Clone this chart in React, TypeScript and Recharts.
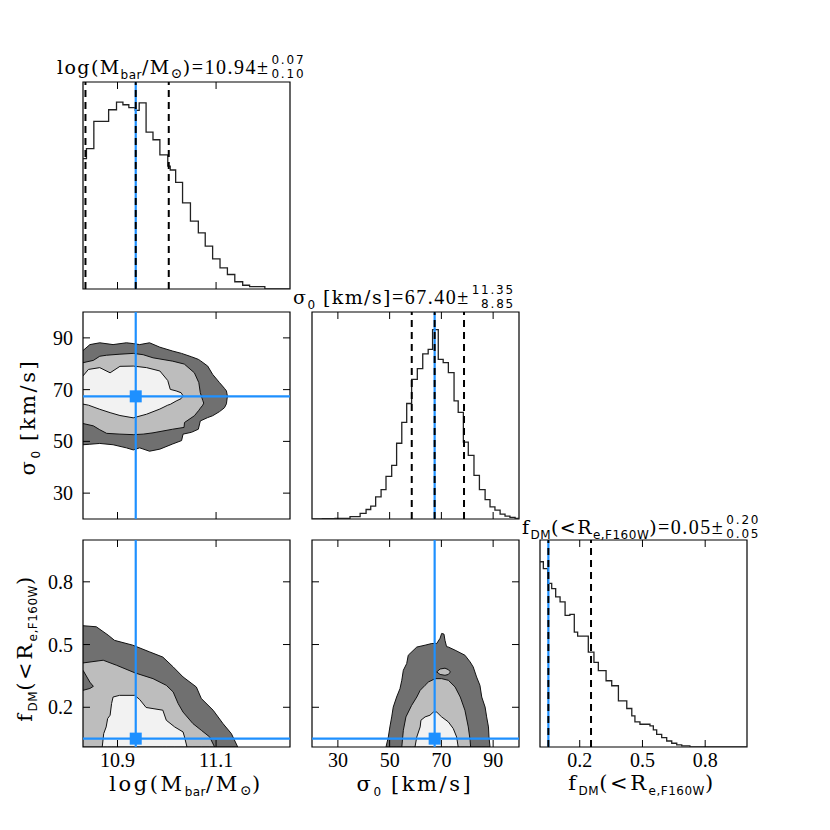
import React from 'react';
import { ComposedChart, Line, Area, Scatter, XAxis, YAxis, ReferenceLine, ReferenceArea } from 'recharts';

// axis ranges and ticks
const massDomain: [number, number] = [10.83, 11.25];
const sigmaDomain: [number, number] = [20, 100];
const fdmDomain: [number, number] = [0.01, 1.0];
const histDomain: [number, number] = [0, 100];
const massTicks = [10.9, 11.1];
const sigmaTicks = [30, 50, 70, 90];
const fdmTicks = [0.2, 0.5, 0.8];

// best values and 16th/84th percentiles
const massBest = 10.937;
const massRange = [10.835, 11.004];
const sigmaBest = 67.4;
const sigmaRange = [58.55, 78.75];
const fdmBest = 0.05;
const fdmRange = [0.05, 0.254];

// 1D posteriors: [left bin edge, height in % of panel]
const massHist = [
  [10.83, 63.0], [10.837, 67.8], [10.852, 81.0], [10.882, 86.6], [10.898, 90.3], [10.911, 89.0],
  [10.923, 87.6], [10.936, 86.3], [10.944, 89.9], [10.958, 75.8], [10.972, 72.1], [10.986, 64.8],
  [11.002, 59.4], [11.007, 57.5], [11.018, 51.5], [11.032, 41.6], [11.048, 32.8], [11.064, 27.1],
  [11.078, 20.7], [11.093, 14.6], [11.108, 10.2], [11.123, 7.0], [11.138, 3.5], [11.154, 1.8],
  [11.168, 1.1], [11.199, 0], [11.25, 0],
];
const sigmaHist = [
  [20, 0], [24, 0.2], [28.9, 0.3], [34.7, 1.1], [38.6, 2.7], [40.9, 4.6], [42.7, 6.2], [44.6, 10.7],
  [46.7, 14.2], [48.6, 20.6], [50.8, 25.9], [52.7, 36.6], [54.7, 46.7], [56.6, 55.8], [58.5, 67.5],
  [60.7, 72.6], [62.8, 79.8], [64.9, 81.9], [66.6, 91.5], [68.8, 77.1], [70.7, 75.5], [72.7, 70.7],
  [74.9, 57.1], [76.5, 51.5], [78.5, 37.1], [80.4, 30.7], [82.6, 21.1], [84.7, 14.2], [86.9, 9.4],
  [88.8, 5.9], [90.7, 4.3], [92.7, 2.4], [94.6, 1.4], [96.5, 0.8], [98.5, 0.3], [100, 0.3],
];
const fdmHist = [
  [0.01, 89.5], [0.026, 86.2], [0.047, 79.0], [0.066, 76.5], [0.085, 72.5], [0.106, 70.1],
  [0.13, 63.6], [0.153, 64.1], [0.174, 55.5], [0.19, 53.6], [0.241, 45.8], [0.268, 40.9],
  [0.289, 36.9], [0.326, 32.0], [0.353, 29.6], [0.385, 22.3], [0.425, 18.6], [0.449, 15.0],
  [0.464, 12.1], [0.488, 11.0], [0.536, 10.2], [0.552, 8.3], [0.568, 6.1], [0.592, 4.5],
  [0.616, 2.9], [0.64, 1.8], [0.664, 1.0], [0.688, 0.5], [0.727, 0], [1.0, 0],
];

// 2D contours: [x, low, high] for the outer, middle and inner credible regions
const massSigmaOuter = [
  [10.83, 48.7, 85.1], [10.844, 48.9, 87.4], [10.864, 49.2, 88.1], [10.891, 48.7, 87.4],
  [10.918, 47.5, 88.1], [10.932, 46.7, 87.8], [10.945, 47.5, 87.4], [10.965, 46.2, 88.1],
  [10.986, 47.0, 86.4], [11.012, 49.0, 84.9], [11.03, 50.3, 84.0], [11.033, 52.8, 83.8],
  [11.05, 53.5, 82.7], [11.064, 54.7, 81.7], [11.068, 57.9, 81.2], [11.083, 59.2, 79.1],
  [11.093, 59.9, 75.9], [11.107, 61.5, 72.7], [11.117, 63.0, 70.5], [11.121, 64.5, 69.5],
  [11.123, 67.5, 67.5],
];
const massSigmaMid = [
  [10.83, 56.9, 80.4], [10.851, 56.0, 81.3], [10.864, 54.5, 82.9], [10.878, 53.1, 83.3],
  [10.905, 52.8, 83.7], [10.932, 52.6, 84.0], [10.952, 52.8, 83.5], [10.972, 53.3, 82.3],
  [11.012, 54.7, 81.0], [11.035, 55.4, 79.9], [11.036, 57.3, 79.8], [11.056, 59.9, 76.5],
  [11.065, 62.0, 72.7], [11.068, 62.8, 68.8], [11.073, 64.0, 65.8], [11.075, 64.8, 64.8],
];
const massSigmaInner = [
  [10.83, 64.4, 75.3], [10.841, 64.0, 77.8], [10.864, 62.4, 78.5], [10.885, 61.1, 76.5],
  [10.905, 60.0, 79.0], [10.932, 59.1, 79.1], [10.959, 60.5, 78.5], [10.986, 62.5, 77.2],
  [11.002, 64.0, 73.5], [11.007, 64.3, 70.1], [11.019, 65.6, 69.5], [11.029, 66.5, 68.8],
  [11.033, 67.6, 67.6],
];

const massFdmOuter = [
  [10.83, 0.01, 0.59], [10.857, 0.01, 0.585], [10.881, 0.01, 0.545], [10.894, 0.01, 0.52],
  [10.931, 0.01, 0.497], [10.965, 0.01, 0.465], [10.992, 0.01, 0.44], [11.013, 0.01, 0.393],
  [11.033, 0.01, 0.345], [11.06, 0.01, 0.297], [11.07, 0.01, 0.242], [11.094, 0.01, 0.186],
  [11.114, 0.01, 0.122], [11.131, 0.01, 0.074], [11.144, 0.01, 0.01],
];
const massFdmMid = [
  [10.83, 0.01, 0.412], [10.871, 0.01, 0.425], [10.898, 0.01, 0.401], [10.936, 0.01, 0.364],
  [10.972, 0.01, 0.337], [10.999, 0.01, 0.305], [11.013, 0.01, 0.273], [11.023, 0.01, 0.218],
  [11.033, 0.01, 0.177], [11.053, 0.01, 0.122], [11.07, 0.01, 0.09], [11.087, 0.01, 0.058],
  [11.097, 0.01, 0.01],
];
const massFdmIsland = [
  [10.83, 0.281, 0.377], [10.844, 0.29, 0.32], [10.851, 0.3, 0.3],
];
const massFdmInner = [
  [10.869, 0.01, 0.01], [10.872, 0.01, 0.074], [10.877, 0.01, 0.106], [10.88, 0.01, 0.146],
  [10.885, 0.01, 0.162], [10.888, 0.01, 0.218], [10.891, 0.01, 0.249], [10.904, 0.01, 0.257],
  [10.935, 0.01, 0.257], [10.945, 0.01, 0.237], [10.958, 0.01, 0.199], [10.992, 0.01, 0.186],
  [10.999, 0.01, 0.138], [11.016, 0.01, 0.106], [11.033, 0.01, 0.082], [11.036, 0.01, 0.058],
  [11.041, 0.01, 0.01],
];

const sigmaFdmOuter = [
  [48.6, 0.01, 0.01], [49.5, 0.01, 0.058], [50.1, 0.01, 0.106], [50.8, 0.01, 0.154],
  [51.4, 0.01, 0.201], [52.7, 0.01, 0.249], [54.0, 0.01, 0.289], [54.7, 0.01, 0.329],
  [55.3, 0.01, 0.377], [56.6, 0.01, 0.409], [57.2, 0.01, 0.449], [60.5, 0.01, 0.488],
  [63.7, 0.01, 0.497], [66.3, 0.01, 0.505], [68.2, 0.01, 0.505], [69.5, 0.01, 0.53],
  [70.1, 0.01, 0.553], [71.0, 0.01, 0.55], [71.4, 0.01, 0.52], [72.0, 0.01, 0.49],
  [72.7, 0.01, 0.488], [75.3, 0.01, 0.473], [79.1, 0.01, 0.449], [81.1, 0.01, 0.417],
  [82.3, 0.01, 0.393], [83.6, 0.01, 0.345], [84.9, 0.01, 0.305], [85.6, 0.01, 0.249],
  [86.9, 0.01, 0.201], [87.5, 0.01, 0.154], [88.2, 0.01, 0.106], [88.4, 0.01, 0.058],
  [88.8, 0.01, 0.01],
];
const sigmaFdmHole = [
  [68.2, 0.369, 0.369], [69.5, 0.357, 0.383], [71.4, 0.353, 0.387], [72.7, 0.357, 0.38], [73.5, 0.369, 0.369],
];
const sigmaFdmMid = [
  [54.7, 0.01, 0.01], [55.3, 0.01, 0.09], [56.3, 0.01, 0.154], [58.5, 0.01, 0.209],
  [60.5, 0.01, 0.249], [61.8, 0.01, 0.281], [63.7, 0.01, 0.305], [65.0, 0.01, 0.321],
  [67.6, 0.01, 0.337], [70.1, 0.01, 0.337], [72.7, 0.01, 0.329], [75.3, 0.01, 0.297],
  [77.3, 0.01, 0.249], [79.1, 0.01, 0.186], [80.4, 0.01, 0.106], [81.1, 0.01, 0.042],
  [81.3, 0.01, 0.01],
];
const sigmaFdmInner = [
  [59.8, 0.01, 0.01], [60.5, 0.01, 0.058], [61.8, 0.01, 0.106], [62.1, 0.01, 0.138],
  [63.7, 0.01, 0.154], [65.6, 0.01, 0.162], [66.9, 0.01, 0.177], [68.2, 0.01, 0.177],
  [70.1, 0.01, 0.154], [72.7, 0.01, 0.13], [74.6, 0.01, 0.098], [75.9, 0.01, 0.058],
  [76.5, 0.01, 0.01],
];

const BLUE = '#1e90ff';
const DARK = '#707070';
const MID = '#bdbdbd';
const LIGHT = '#f2f2f2';
const serif = '"DejaVu Serif", serif';
const tickFont = '"Liberation Serif", "Times New Roman", serif';
const sans = '"DejaVu Sans", sans-serif';

const PW = 207;
const PH = 207;
const TL = 7; // tick length
// axes take 1px each (a zero-sized axis is not drawn), margins make up the rest
const M = { top: 12, right: 12, bottom: 39, left: 79 };

const toHist = (rows: number[][]) => rows.map(([x, h]) => ({ x, h }));
const toBand = (rows: number[][]) => rows.map(([x, lo, hi]) => ({ x, r: [lo, hi] }));

function XTick(props: any) {
  const { x, y, payload, showLabel } = props;
  return (
    <g>
      <line x1={x} x2={x} y1={y} y2={y - TL} stroke="#000" />
      <line x1={x} x2={x} y1={y - PH} y2={y - PH + TL} stroke="#000" />
      {showLabel && (
        <text x={x} y={y + 20} textAnchor="middle" fontFamily={tickFont} fontSize={20} fill="#000">
          {String(payload.value)}
        </text>
      )}
    </g>
  );
}

function YTick(props: any) {
  const { x, y, payload, showLabel } = props;
  return (
    <g>
      <line x1={x} x2={x + TL} y1={y} y2={y} stroke="#000" />
      <line x1={x + PW} x2={x + PW - TL} y1={y} y2={y} stroke="#000" />
      {showLabel && (
        <text x={x - 10} y={y + 7} textAnchor="end" fontFamily={tickFont} fontSize={20} fill="#000">
          {String(payload.value)}
        </text>
      )}
    </g>
  );
}

function Panel(props: any) {
  const { left, top, xDomain, yDomain, xTicks, yTicks, xLabels, yLabels, children } = props;
  return (
    <div style={{ position: 'absolute', left: left - M.left - 1, top: top - M.top }}>
      <ComposedChart width={PW + M.left + M.right + 1} height={PH + M.top + M.bottom + 1} margin={M}>
        <XAxis
          type="number"
          dataKey="x"
          domain={xDomain}
          allowDataOverflow
          ticks={xTicks}
          interval={0}
          height={1}
          tickSize={0}
          tickMargin={0}
          axisLine={false}
          tickLine={false}
          tick={(p: any) => <XTick {...p} showLabel={xLabels} />}
        />
        <YAxis
          type="number"
          dataKey="y"
          domain={yDomain}
          allowDataOverflow
          ticks={yTicks}
          interval={0}
          width={1}
          tickSize={0}
          tickMargin={0}
          axisLine={false}
          tickLine={false}
          tick={yTicks ? (p: any) => <YTick {...p} showLabel={yLabels} /> : false}
        />
        {children}
        <ReferenceArea
          x1={xDomain[0]}
          x2={xDomain[1]}
          y1={yDomain[0]}
          y2={yDomain[1]}
          fill="none"
          fillOpacity={0}
          stroke="#000"
          strokeWidth={1.2}
        />
      </ComposedChart>
    </div>
  );
}

const band = (rows: number[][], fill: string, key: string) => (
  <Area
    key={key}
    data={toBand(rows)}
    dataKey="r"
    type="linear"
    fill={fill}
    fillOpacity={1}
    stroke="#111"
    strokeWidth={1}
    dot={false}
    activeDot={false}
    isAnimationActive={false}
  />
);

const hist = (rows: number[][]) => (
  <Line
    data={toHist(rows)}
    dataKey="h"
    type="stepAfter"
    stroke="#222"
    strokeWidth={1.3}
    dot={false}
    activeDot={false}
    isAnimationActive={false}
  />
);

const square = (x: number, y: number) => (
  <Scatter
    data={[{ x, y }]}
    dataKey="y"
    isAnimationActive={false}
    shape={(p: any) => <rect x={p.cx - 6} y={p.cy - 6} width={12} height={12} fill={BLUE} />}
  />
);

const Sub = ({ children, size = 12, drop = 5, font = sans }: any) => (
  <span style={{ fontFamily: font, fontSize: size, position: 'relative', top: drop, letterSpacing: 0.5 }}>{children}</span>
);

const Value = ({ children }: any) => (
  <span style={{ fontFamily: tickFont, fontSize: 20, letterSpacing: 1.5 }}>{children}</span>
);

const PlusMinus = ({ up, down }: any) => (
  <span
    style={{
      display: 'inline-flex',
      flexDirection: 'column',
      alignItems: 'flex-end',
      fontFamily: sans,
      fontSize: 12,
      lineHeight: '14px',
      letterSpacing: 1.8,
      marginLeft: 2,
    }}
  >
    <span>{up}</span>
    <span>{down}</span>
  </span>
);

const textBox = (left: number, top: number, extra: any = {}): React.CSSProperties => ({
  position: 'absolute',
  left,
  top,
  height: 28,
  display: 'flex',
  alignItems: 'center',
  whiteSpace: 'nowrap',
  fontFamily: serif,
  color: '#000',
  ...extra,
});

const titleStyle = { fontSize: 19, letterSpacing: 1.4 };
const labelStyle = { fontSize: 21, letterSpacing: 2.6, height: 24 };

const MassLabel = () => (
  <span>
    log(M<Sub>bar</Sub>/M<Sub font={serif} size={14} drop={4}>⊙</Sub>)
  </span>
);
const SigmaLabel = () => (
  <span>
    σ<Sub>0</Sub>&nbsp;[km/s]
  </span>
);
const FdmLabel = () => (
  <span>
    f<Sub>DM</Sub>(&lt;R<Sub>e,F160W</Sub>)
  </span>
);

export default function App() {
  const cols = [83, 312, 540];
  const rows = [82, 312, 540];
  return (
    <div style={{ position: 'absolute', left: 0, top: 0, width: 830, height: 830, background: '#fff' }}>
      {/* diagonal: 1D posteriors */}
      <Panel left={cols[0]} top={rows[0]} xDomain={massDomain} yDomain={histDomain} xTicks={massTicks}>
        {hist(massHist)}
        <ReferenceLine x={massBest} stroke={BLUE} strokeWidth={2.2} />
        <ReferenceLine x={massRange[0]} stroke="#000" strokeWidth={2} strokeDasharray="7 5" />
        <ReferenceLine x={massBest} stroke="#000" strokeWidth={2} strokeDasharray="7 5" />
        <ReferenceLine x={massRange[1]} stroke="#000" strokeWidth={2} strokeDasharray="7 5" />
      </Panel>
      <Panel left={cols[1]} top={rows[1]} xDomain={sigmaDomain} yDomain={histDomain} xTicks={sigmaTicks}>
        {hist(sigmaHist)}
        <ReferenceLine x={sigmaBest} stroke={BLUE} strokeWidth={2.2} />
        <ReferenceLine x={sigmaRange[0]} stroke="#000" strokeWidth={2} strokeDasharray="7 5" />
        <ReferenceLine x={sigmaBest} stroke="#000" strokeWidth={2} strokeDasharray="7 5" />
        <ReferenceLine x={sigmaRange[1]} stroke="#000" strokeWidth={2} strokeDasharray="7 5" />
      </Panel>
      <Panel left={cols[2]} top={rows[2]} xDomain={fdmDomain} yDomain={histDomain} xTicks={fdmTicks} xLabels>
        {hist(fdmHist)}
        <ReferenceLine x={fdmBest} stroke={BLUE} strokeWidth={2.2} />
        <ReferenceLine x={fdmRange[0]} stroke="#000" strokeWidth={2} strokeDasharray="7 5" />
        <ReferenceLine x={fdmRange[1]} stroke="#000" strokeWidth={2} strokeDasharray="7 5" />
      </Panel>

      {/* 2D posteriors */}
      <Panel left={cols[0]} top={rows[1]} xDomain={massDomain} yDomain={sigmaDomain} xTicks={massTicks} yTicks={sigmaTicks} yLabels>
        {band(massSigmaOuter, DARK, 'o')}
        {band(massSigmaMid, MID, 'm')}
        {band(massSigmaInner, LIGHT, 'i')}
        <ReferenceLine x={massBest} stroke={BLUE} strokeWidth={2.2} />
        <ReferenceLine y={sigmaBest} stroke={BLUE} strokeWidth={2.2} />
        {square(massBest, sigmaBest)}
      </Panel>
      <Panel left={cols[0]} top={rows[2]} xDomain={massDomain} yDomain={fdmDomain} xTicks={massTicks} yTicks={fdmTicks} xLabels yLabels>
        {band(massFdmOuter, DARK, 'o')}
        {band(massFdmMid, MID, 'm')}
        {band(massFdmIsland, DARK, 'd')}
        {band(massFdmInner, LIGHT, 'i')}
        <ReferenceLine x={massBest} stroke={BLUE} strokeWidth={2.2} />
        <ReferenceLine y={fdmBest} stroke={BLUE} strokeWidth={2.2} />
        {square(massBest, fdmBest)}
      </Panel>
      <Panel left={cols[1]} top={rows[2]} xDomain={sigmaDomain} yDomain={fdmDomain} xTicks={sigmaTicks} yTicks={fdmTicks} xLabels>
        {band(sigmaFdmOuter, DARK, 'o')}
        {band(sigmaFdmHole, MID, 'h')}
        {band(sigmaFdmMid, MID, 'm')}
        {band(sigmaFdmInner, LIGHT, 'i')}
        <ReferenceLine x={sigmaBest} stroke={BLUE} strokeWidth={2.2} />
        <ReferenceLine y={fdmBest} stroke={BLUE} strokeWidth={2.2} />
        {square(sigmaBest, fdmBest)}
      </Panel>

      {/* titles over the 1D posteriors */}
      <div style={textBox(57, 53, titleStyle)}>
        <MassLabel />
        <Value>=10.94±</Value>
        <PlusMinus up="0.07" down="0.10" />
      </div>
      <div style={textBox(293, 283, titleStyle)}>
        <SigmaLabel />
        <Value>=67.40±</Value>
        <PlusMinus up="11.35" down="8.85" />
      </div>
      <div style={textBox(522, 513, titleStyle)}>
        <FdmLabel />
        <Value>=0.05±</Value>
        <PlusMinus up="0.20" down="0.05" />
      </div>

      {/* axis labels */}
      <div style={textBox(36, 772, { ...labelStyle, width: 300, justifyContent: 'center' })}>
        <MassLabel />
      </div>
      <div style={textBox(265, 772, { ...labelStyle, width: 300, justifyContent: 'center' })}>
        <SigmaLabel />
      </div>
      <div style={textBox(492, 771, { ...labelStyle, width: 300, justifyContent: 'center' })}>
        <FdmLabel />
      </div>
      <div style={textBox(28 - 150, 417 - 12, { ...labelStyle, width: 300, justifyContent: 'center', transform: 'rotate(-90deg)' })}>
        <SigmaLabel />
      </div>
      <div style={textBox(25 - 150, 648 - 12, { ...labelStyle, width: 300, justifyContent: 'center', transform: 'rotate(-90deg)' })}>
        <FdmLabel />
      </div>
    </div>
  );
}
